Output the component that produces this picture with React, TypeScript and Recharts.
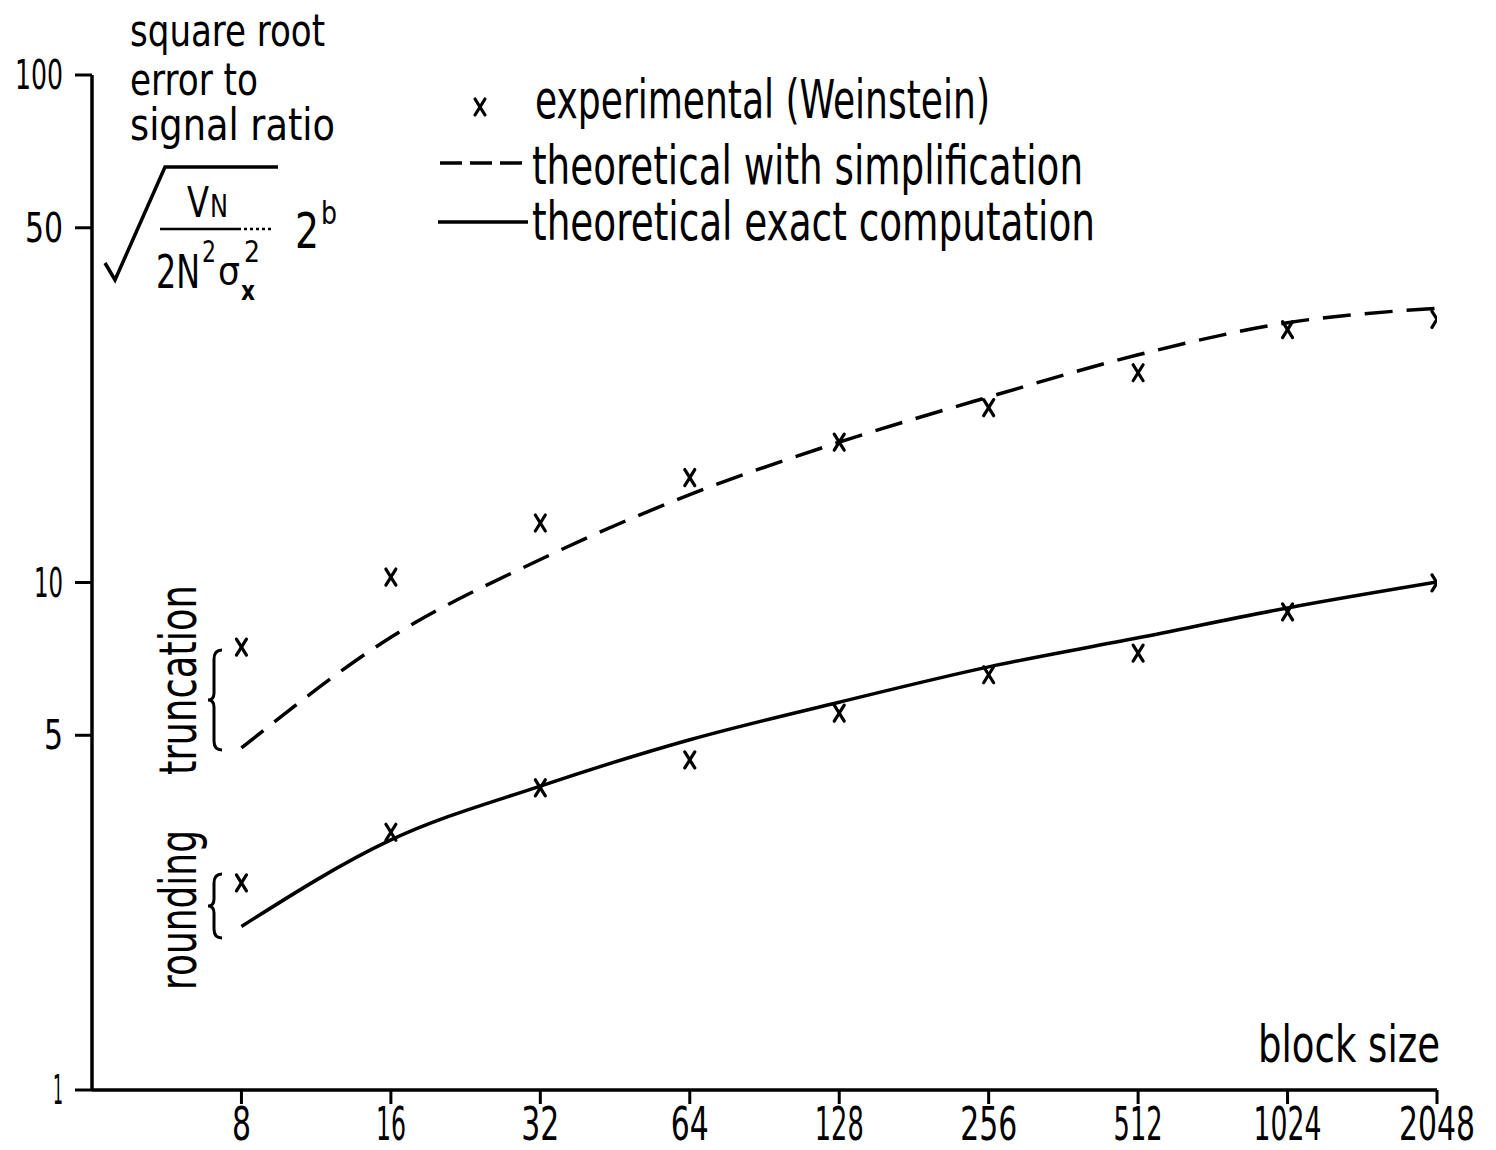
import React from 'react';
import { ComposedChart, Line, Scatter, XAxis, YAxis } from 'recharts';

const blockSizes = [8, 16, 32, 64, 128, 256, 512, 1024, 2048];
const yTicks = [1, 5, 10, 50, 100];
const expTruncation = [7.46, 10.25, 13.1, 16.1, 18.9, 22.1, 25.9, 31.5, 33.0];
const expRounding = [2.56, 3.22, 3.94, 4.47, 5.53, 6.58, 7.26, 8.75, 9.98];
const theoSimplified = [4.72, 7.8, 11.1, 14.9, 18.9, 23.2, 28.1, 32.5, 34.7];
const theoExact = [2.1, 3.11, 3.97, 4.9, 5.81, 6.82, 7.78, 8.91, 10.02];

const toPoints = (vals: number[]) => blockSizes.map((x, i) => ({ x, y: vals[i] }));
const expTruncPts = toPoints(expTruncation);
const expRoundPts = toPoints(expRounding);
const simplifiedPts = toPoints(theoSimplified);
const exactPts = toPoints(theoExact);

const FONT = '"Liberation Sans Narrow", "DejaVu Sans Condensed", "Roboto Condensed", sans-serif';

const digitWidth = (s: string, w: number, w1: number) =>
  s.split('').reduce((acc, c) => acc + (c === '1' ? w1 : w), 0);

const XMark = (props: any) => {
  const { cx, cy } = props;
  if (cx == null || cy == null) return null;
  return (
    <g stroke="#000" strokeWidth={3.2} strokeLinecap="round">
      <line x1={cx - 5} y1={cy - 8} x2={cx + 5} y2={cy + 8} />
      <line x1={cx + 5} y1={cy - 8} x2={cx - 5} y2={cy + 8} />
    </g>
  );
};

const XTick = (props: any) => {
  const { x, y, payload } = props;
  const s = String(payload.value);
  return (
    <text
      x={x}
      y={y + 34}
      textAnchor="middle"
      fontFamily={FONT}
      fontSize={46}
      fill="#000"
      textLength={digitWidth(s, 19, 11)}
      lengthAdjust="spacingAndGlyphs"
    >
      {s}
    </text>
  );
};

const YTick = (props: any) => {
  const { x, y, payload } = props;
  const s = String(payload.value);
  return (
    <text
      x={x - 10}
      y={y + 14}
      textAnchor="end"
      fontFamily={FONT}
      fontSize={40}
      fill="#000"
      textLength={digitWidth(s, 19, 10)}
      lengthAdjust="spacingAndGlyphs"
    >
      {s}
    </text>
  );
};

const brace = (x: number, y1: number, y2: number) => {
  const ym = (y1 + y2) / 2;
  return `M ${x + 8} ${y1} Q ${x} ${y1} ${x} ${y1 + 9} L ${x} ${ym - 7} Q ${x} ${ym} ${x - 6} ${ym} Q ${x} ${ym} ${x} ${ym + 7} L ${x} ${y2 - 9} Q ${x} ${y2} ${x + 8} ${y2}`;
};

const Annotations = () => (
  <g fontFamily={FONT} fill="#000">
    {/* y-axis title */}
    <text x={122} y={38} fontSize={44} textLength={195} lengthAdjust="spacingAndGlyphs">square root</text>
    <text x={122} y={87} fontSize={44} textLength={128} lengthAdjust="spacingAndGlyphs">error to</text>
    <text x={122} y={132} fontSize={44} textLength={205} lengthAdjust="spacingAndGlyphs">signal ratio</text>
    <polyline points="97,255 107,272 157,159 270,159" fill="none" stroke="#000" strokeWidth={3.5} />
    <text x={179} y={209} fontSize={42} textLength={22} lengthAdjust="spacingAndGlyphs">V</text>
    <text x={202} y={209} fontSize={32} textLength={18} lengthAdjust="spacingAndGlyphs">N</text>
    <line x1={152} y1={221} x2={230} y2={221} stroke="#000" strokeWidth={2.5} />
    <line x1={230} y1={221} x2={266} y2={221} stroke="#000" strokeWidth={2.5} strokeDasharray="3 3" />
    <text x={148} y={280} fontSize={46} textLength={44} lengthAdjust="spacingAndGlyphs">2N</text>
    <text x={194} y={254} fontSize={30} textLength={14} lengthAdjust="spacingAndGlyphs">2</text>
    <text x={210} y={276} fontSize={38} textLength={22} lengthAdjust="spacingAndGlyphs">σ</text>
    <text x={233} y={292} fontSize={26} fontWeight="bold" textLength={14} lengthAdjust="spacingAndGlyphs">x</text>
    <text x={236} y={254} fontSize={30} textLength={16} lengthAdjust="spacingAndGlyphs">2</text>
    <text x={287} y={240} fontSize={50} textLength={24} lengthAdjust="spacingAndGlyphs">2</text>
    <text x={313} y={216} fontSize={32} textLength={16} lengthAdjust="spacingAndGlyphs">b</text>

    {/* legend */}
    <XMark cx={472} cy={99} />
    <text x={527} y={110} fontSize={54} textLength={455} lengthAdjust="spacingAndGlyphs">experimental (Weinstein)</text>
    <line x1={432} y1={155} x2={520} y2={155} stroke="#000" strokeWidth={3.5} strokeDasharray="22 8" />
    <text x={524} y={176} fontSize={54} textLength={551} lengthAdjust="spacingAndGlyphs">theoretical with simplification</text>
    <line x1={430} y1={214} x2={520} y2={214} stroke="#000" strokeWidth={3.5} />
    <text x={524} y={232} fontSize={54} textLength={563} lengthAdjust="spacingAndGlyphs">theoretical exact computation</text>

    {/* side labels */}
    <text transform="translate(188,767) rotate(-90)" fontSize={52} textLength={190} lengthAdjust="spacingAndGlyphs">truncation</text>
    <text transform="translate(188,982) rotate(-90)" fontSize={52} textLength={160} lengthAdjust="spacingAndGlyphs">rounding</text>
    <path d={brace(206, 642, 742)} fill="none" stroke="#000" strokeWidth={3} />
    <path d={brace(206, 866, 930)} fill="none" stroke="#000" strokeWidth={3} />

    {/* x-axis title */}
    <text x={1432} y={1054} fontSize={52} textAnchor="end" textLength={182} lengthAdjust="spacingAndGlyphs">block size</text>
  </g>
);

export default function App() {
  return (
    <div style={{ width: 1480, height: 1142, background: '#fff' }}>
      <ComposedChart
        width={1480}
        height={1142}
        margin={{ top: 67, right: 51, bottom: 0, left: 24 }}
      >
        <XAxis
          dataKey="x"
          type="number"
          scale="log"
          domain={[4, 2048]}
          ticks={blockSizes}
          allowDataOverflow
          height={60}
          axisLine={{ stroke: '#000', strokeWidth: 3.5 }}
          tickLine={{ stroke: '#000', strokeWidth: 3 }}
          tickSize={14}
          tick={<XTick />}
          interval={0}
        />
        <YAxis
          dataKey="y"
          type="number"
          scale="log"
          domain={[1, 100]}
          ticks={yTicks}
          allowDataOverflow
          width={60}
          axisLine={{ stroke: '#000', strokeWidth: 3.5 }}
          tickLine={{ stroke: '#000', strokeWidth: 3 }}
          tickSize={17}
          tick={<YTick />}
          interval={0}
        />
        <Line
          data={simplifiedPts}
          dataKey="y"
          type="monotone"
          stroke="#000"
          strokeWidth={3.5}
          strokeDasharray="28 14"
          dot={false}
          activeDot={false}
          isAnimationActive={false}
        />
        <Line
          data={exactPts}
          dataKey="y"
          type="monotone"
          stroke="#000"
          strokeWidth={3.5}
          dot={false}
          activeDot={false}
          isAnimationActive={false}
        />
        <Scatter data={expTruncPts} dataKey="y" shape={<XMark />} isAnimationActive={false} />
        <Scatter data={expRoundPts} dataKey="y" shape={<XMark />} isAnimationActive={false} />
        <Annotations />
      </ComposedChart>
    </div>
  );
}
